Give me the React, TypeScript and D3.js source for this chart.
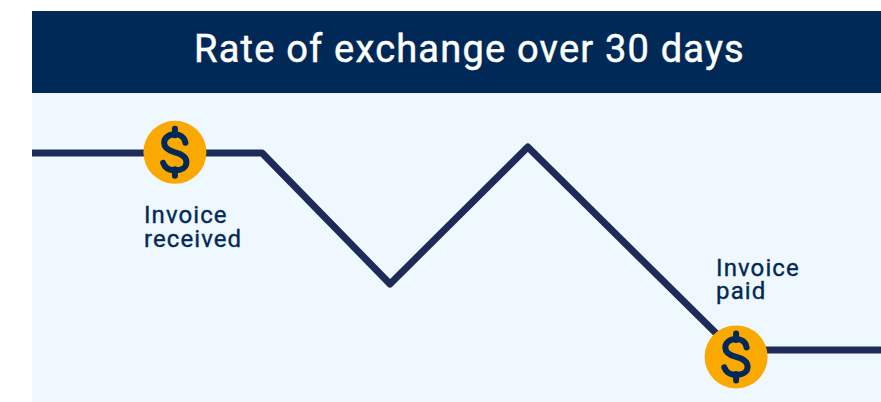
import React from "react";
import * as d3 from "d3";

const WIDTH = 881;
const HEIGHT = 402;
const TITLE = "Rate of exchange over 30 days";

const days = [0, 8.13, 12.65, 17.52, 24.77, 30];
const rates = [80.6, 80.6, 38.2, 82.5, 16.8, 16.8];

// The coin for the payment sits a little below the line it marks.
const eventDays = [5.05, 24.88];
const eventRates = [80.8, 14.6];
const eventLabels = [
  { lines: ["Invoice", "received"], dx: -31, dy: 71 },
  { lines: ["Invoice", "paid"], dx: -20, dy: -81 },
];

const NAVY = "#012957";
const LINE = "#1e2a57";
const PANEL = "#eff8ff";
const GOLD = "#fba800";

const x = d3.scaleLinear().domain([0, 30]).range([32, 881]);
const y = d3.scaleLinear().domain([0, 100]).range([402, 93]);

const rateLine = d3
  .line<number>()
  .x((_, i) => x(days[i]))
  .y((d) => y(d))
  .curve(d3.curveLinear);

function DollarCoin({ cx, cy }: { cx: number; cy: number }) {
  return (
    <g transform={`translate(${cx},${cy})`}>
      <circle r={31.5} fill={GOLD} />
      <path
        d="M10.5,-9.5 C9.5,-15.5 5,-18 0,-18 C-6.5,-18 -10.8,-14 -10.8,-9.5 C-10.8,-3.5 -5.5,-1.5 0,0 C6,1.5 11.5,4 11.5,9.8 C11.5,15 6.5,18 0,18 C-5.5,18 -10,16 -11.8,10.5"
        fill="none"
        stroke={NAVY}
        strokeWidth={6}
        strokeLinecap="round"
        strokeLinejoin="round"
      />
      <path d="M0,-23.5 V-17 M0,17 V23.5" stroke={NAVY} strokeWidth={6} strokeLinecap="round" />
    </g>
  );
}

export default function App() {
  return (
    <svg
      width={WIDTH}
      height={HEIGHT}
      viewBox={`0 0 ${WIDTH} ${HEIGHT}`}
      style={{ position: "fixed", left: 0, top: 0, display: "block" }}
    >
      <rect x={0} y={0} width={WIDTH} height={HEIGHT} fill="#ffffff" />
      <rect x={32} y={93} width={849} height={309} fill={PANEL} />
      <rect x={32} y={11} width={849} height={82} fill={NAVY} />
      <text
        x={469.5}
        y={62}
        textAnchor="middle"
        fill="#ffffff"
        stroke="#ffffff"
        strokeWidth={0.5}
        fontFamily="Roboto, sans-serif"
        fontSize={38}
        fontWeight={400}
        letterSpacing={1.2}
      >
        {TITLE}
      </text>

      <path
        d={rateLine(rates) ?? ""}
        fill="none"
        stroke={LINE}
        strokeWidth={7}
        strokeLinejoin="round"
      />

      {eventDays.map((d, i) => {
        const cx = x(d);
        const cy = y(eventRates[i]);
        const label = eventLabels[i];
        return (
          <g key={d}>
            <DollarCoin cx={cx} cy={cy} />
            <text
              fill={NAVY}
              stroke={NAVY}
              strokeWidth={0.35}
              fontFamily="Roboto, sans-serif"
              fontSize={24}
              fontWeight={400}
              letterSpacing={1.1}
            >
              {label.lines.map((t, j) => (
                <tspan key={t} x={cx + label.dx} y={cy + label.dy + j * 23.5}>
                  {t}
                </tspan>
              ))}
            </text>
          </g>
        );
      })}
    </svg>
  );
}
